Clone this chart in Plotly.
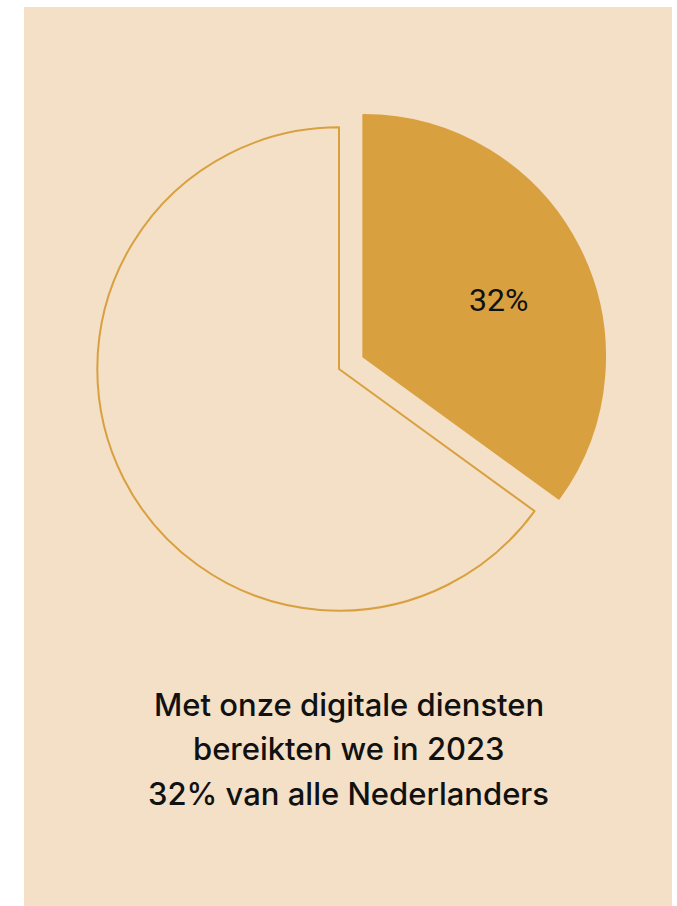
import plotly.graph_objects as go

labels = ["Bereikt", "Niet bereikt"]
values = [35, 65]          # share as drawn in the reference (slice spans ~126 degrees)
slice_text = ["32%", ""]   # label as printed in the reference
caption_lines = [
    "Met onze digitale diensten",
    "bereikten we in 2023",
    "32% van alle Nederlanders",
]

W, H = 677, 906
GOLD = "#D9A040"
BEIGE = "#F3E0C6"

cx, cy, half = 339, 369, 269

fig = go.Figure()
fig.add_trace(go.Pie(
    labels=labels,
    values=values,
    textinfo="none",
    sort=False,
    direction="clockwise",
    rotation=0,
    pull=[0.113, 0],
    marker=dict(colors=[GOLD, BEIGE], line=dict(color=GOLD, width=2)),
    hoverinfo="skip",
    showlegend=False,
    domain=dict(x=[(cx - half) / W, (cx + half) / W],
                y=[1 - (cy + half) / H, 1 - (cy - half) / H]),
))

# slice label
fig.add_annotation(text=slice_text[0], xref="paper", yref="paper",
                   x=498 / W, y=1 - 300 / H, xanchor="center", yanchor="middle",
                   showarrow=False,
                   font=dict(family="Roboto", size=32, color="#111111"))

fig.add_shape(type="rect", xref="paper", yref="paper",
              x0=24 / W, x1=672 / W, y0=0, y1=1 - 7 / H,
              fillcolor=BEIGE, line=dict(width=0), layer="below")

ys = [704, 748, 793]
for line, yy in zip(caption_lines, ys):
    fig.add_annotation(text=line, xref="paper", yref="paper",
                       x=348.5 / W, y=1 - yy / H, xanchor="center", yanchor="middle",
                       showarrow=False,
                       font=dict(family="Inter", size=31, weight=500, color="#111111"))

fig.update_layout(width=W, height=H, margin=dict(l=0, r=0, t=0, b=0),
                  paper_bgcolor="white", plot_bgcolor="white")

fig.write_html("out.html", config={"displayModeBar": False},
               post_script="document.body.style.margin='0';")
